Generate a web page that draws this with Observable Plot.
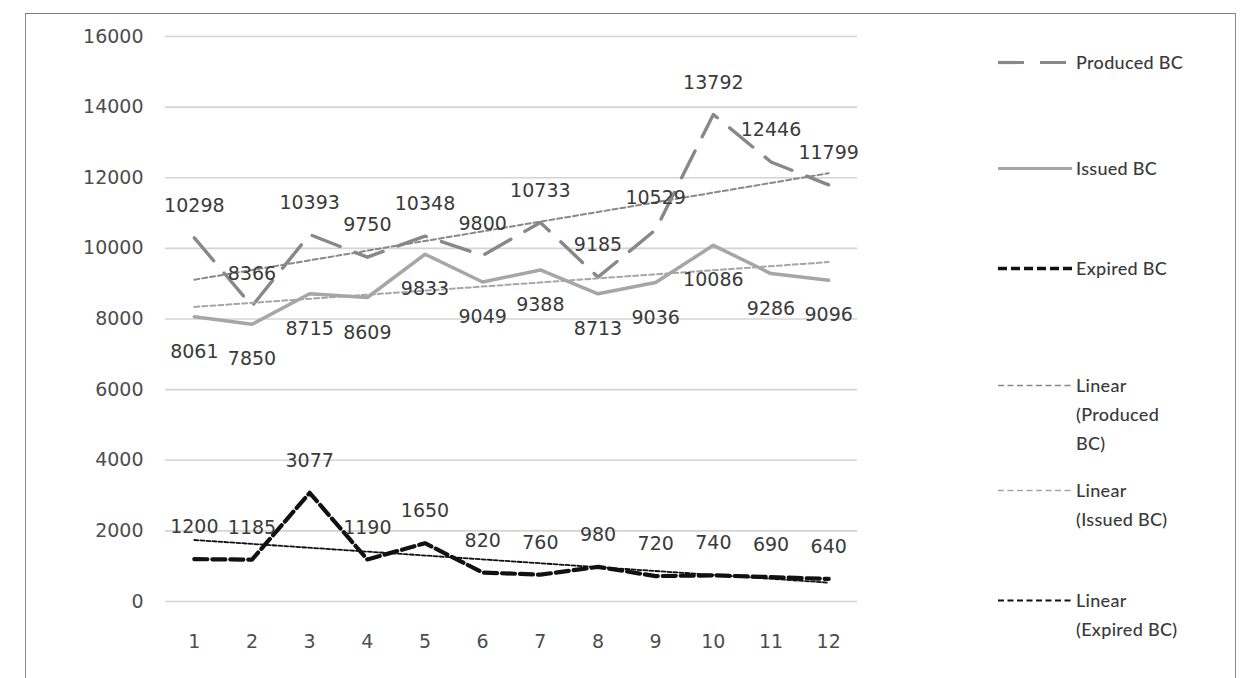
<!DOCTYPE html>
<html>
<head>
<meta charset="utf-8">
<script src="https://cdn.jsdelivr.net/npm/d3@7"></script>
<script src="https://cdn.jsdelivr.net/npm/@observablehq/plot@0.6"></script>
<style>
  html, body { margin: 0; padding: 0; background: #fff; width: 1243px; height: 678px; overflow: hidden; }
  #frame { position: absolute; left: 25px; top: 13px; width: 1209px; height: 720px;
           border-top: 1.5px solid #7f7f7f; border-left: 1.5px solid #8a8a8a; border-right: 1.5px solid #8a8a8a; }
  #chart { position: absolute; left: 0; top: 0; }
  .leg { position: absolute; left: 998px; font-family: Lato, "Open Sans", sans-serif; font-size: 18px;
         color: #3a3a3a; line-height: 29px; display: flex; align-items: flex-start; font-weight: 500; }
  .leg svg { flex: none; margin-top: 0; }
  .leg span { margin-left: 2px; letter-spacing: 0.3px; }
</style>
</head>
<body>
<div id="frame"></div>
<div id="chart"></div>
<div id="legend"></div>
<script>
const months = [1, 2, 3, 4, 5, 6, 7, 8, 9, 10, 11, 12];
const produced = [10298, 8366, 10393, 9750, 10348, 9800, 10733, 9185, 10529, 13792, 12446, 11799];
const issued = [8061, 7850, 8715, 8609, 9833, 9049, 9388, 8713, 9036, 10086, 9286, 9096];
const expired = [1200, 1185, 3077, 1190, 1650, 820, 760, 980, 720, 740, 690, 640];
const yTicks = [0, 2000, 4000, 6000, 8000, 10000, 12000, 14000, 16000];
const legendNames = ["Produced BC", "Issued BC", "Expired BC", "Linear (Produced BC)", "Linear (Issued BC)", "Linear (Expired BC)"];

const rows = months.map((m, i) => ({month: m, produced: produced[i], issued: issued[i], expired: expired[i]}));

const cProduced = "#888888", cIssued = "#a6a6a6", cExpired = "#111111";
const font = "DejaVu Sans, sans-serif";

const chart = Plot.plot({
  width: 900,
  height: 678,
  marginLeft: 165,
  marginRight: 43,
  marginTop: 36,
  marginBottom: 77,
  style: {background: "transparent", fontFamily: font, fontSize: "19px"},
  x: {type: "linear", domain: [0.5, 12.5]},
  y: {domain: [0, 16000]},
  marks: [
    Plot.gridY(yTicks, {stroke: "#d4d4d4", strokeOpacity: 1, strokeWidth: 1.6}),
    Plot.axisY(yTicks, {tickSize: 0, tickPadding: 22, fill: "#4d4d4d", fontSize: 19, label: null, tickFormat: d => String(d)}),
    Plot.axisX(months, {tickSize: 0, tickPadding: 33, fill: "#4d4d4d", fontSize: 19, label: null, tickFormat: d => String(d)}),
    Plot.line(rows, {x: "month", y: "issued", stroke: cIssued, strokeWidth: 3.5}),
    Plot.line(rows, {x: "month", y: "produced", stroke: cProduced, strokeWidth: 3.4, strokeDasharray: "30,16"}),
    Plot.line(rows, {x: "month", y: "expired", stroke: cExpired, strokeWidth: 4.2, strokeDasharray: "13,5"}),
    Plot.linearRegressionY(rows, {x: "month", y: "produced", ci: 0, stroke: cProduced, strokeWidth: 2, strokeDasharray: "5,3"}),
    Plot.linearRegressionY(rows, {x: "month", y: "issued", ci: 0, stroke: cIssued, strokeWidth: 2, strokeDasharray: "5,3"}),
    Plot.linearRegressionY(rows, {x: "month", y: "expired", ci: 0, stroke: cExpired, strokeWidth: 1.8, strokeDasharray: "4,2"}),
    Plot.text(rows, {x: "month", y: "produced", text: d => String(d.produced), dy: -32, fill: "#3a3a3a", fontSize: 19}),
    Plot.text(rows, {x: "month", y: "issued", text: d => String(d.issued), dy: 35, fill: "#3a3a3a", fontSize: 19}),
    Plot.text(rows, {x: "month", y: "expired", text: d => String(d.expired), dy: -32, fill: "#3a3a3a", fontSize: 19})
  ]
});
document.getElementById("chart").appendChild(chart);

// Legend (HTML beside the plot)
const legendStyles = [
  {stroke: cProduced, width: 3.2, dash: "26,16", top: 48},
  {stroke: cIssued, width: 3.2, dash: null, top: 154},
  {stroke: cExpired, width: 3.5, dash: "9,4", top: 254},
  {stroke: cProduced, width: 1.6, dash: "6,3.5", top: 371, wrap: ["Linear", "(Produced", "BC)"]},
  {stroke: cIssued, width: 1.6, dash: "6,3.5", top: 476, wrap: ["Linear", "(Issued BC)"]},
  {stroke: cExpired, width: 1.9, dash: "6,3.5", top: 586, wrap: ["Linear", "(Expired BC)"]}
];
const legend = d3.select("#legend");
legendNames.forEach((name, i) => {
  const s = legendStyles[i];
  const item = legend.append("div").attr("class", "leg").style("top", s.top + "px");
  const svg = item.append("svg").attr("width", 76).attr("height", 29);
  svg.append("line").attr("x1", 0).attr("x2", 74).attr("y1", 14.5).attr("y2", 14.5)
    .attr("stroke", s.stroke).attr("stroke-width", s.width)
    .attr("stroke-dasharray", s.dash);
  const span = item.append("span");
  if (s.wrap) span.html(s.wrap.join("<br>")); else span.text(name);
});
</script>
</body>
</html>
